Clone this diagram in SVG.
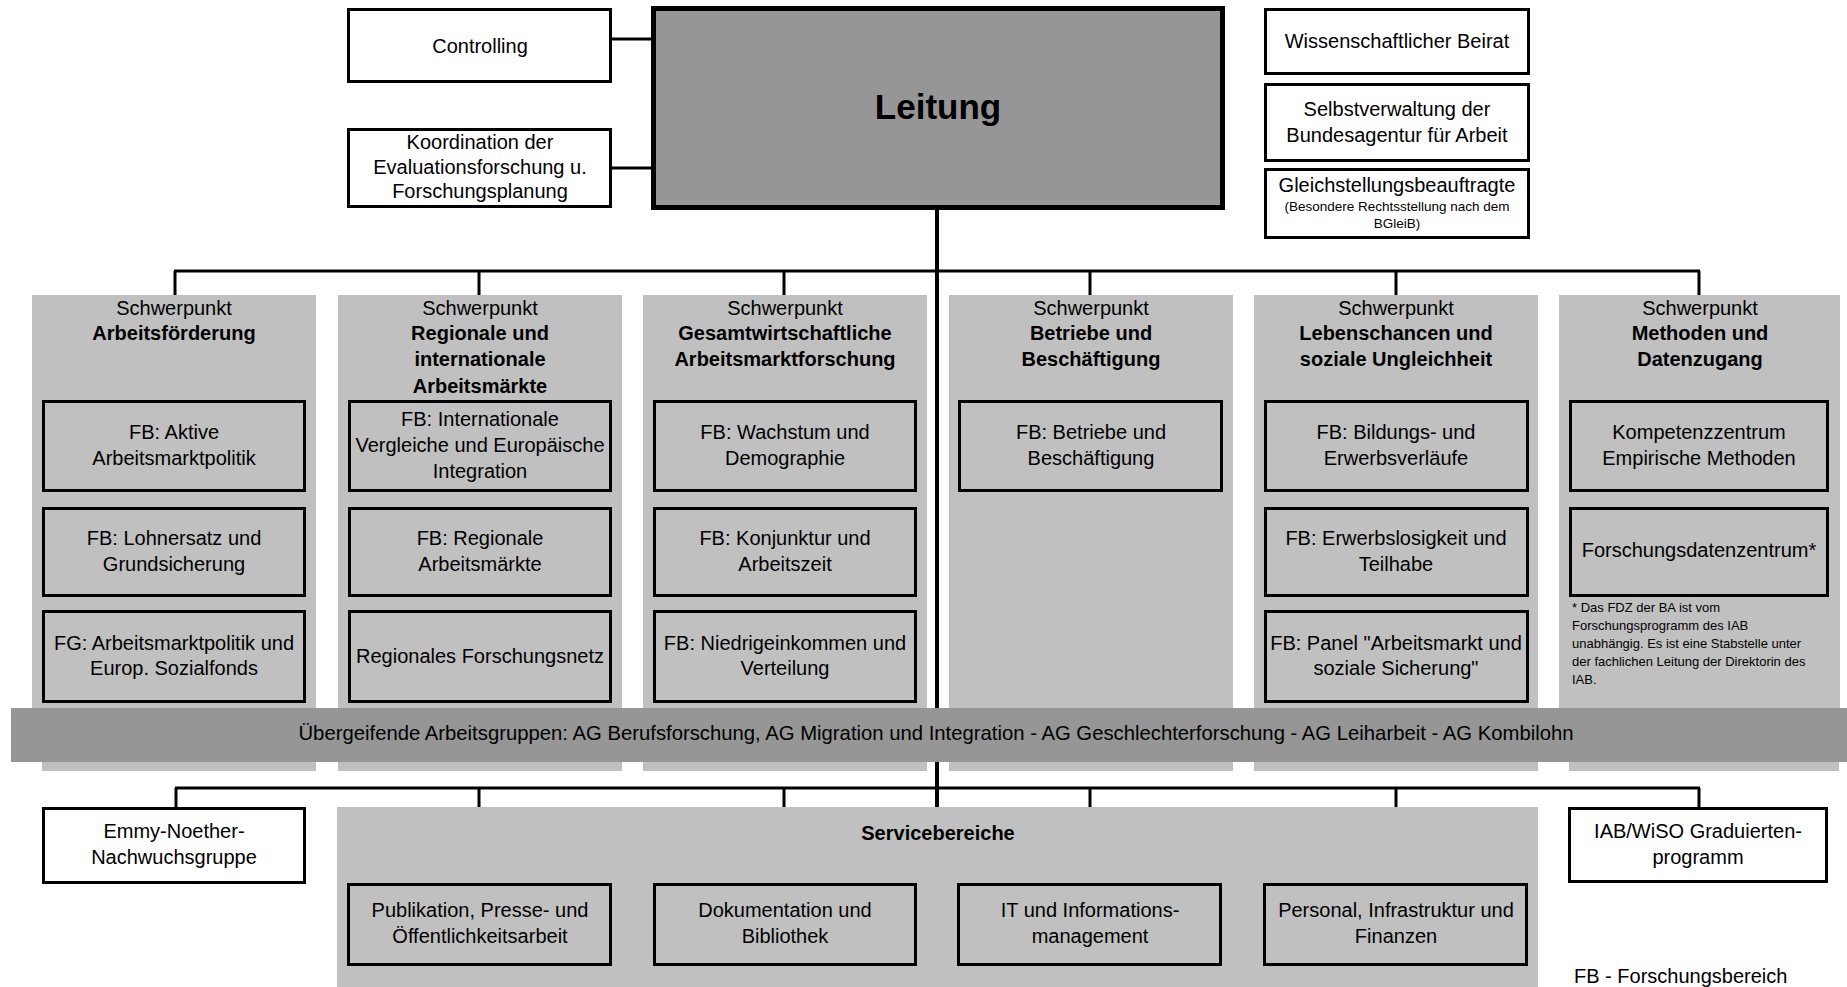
<svg xmlns="http://www.w3.org/2000/svg" width="1847" height="987" viewBox="0 0 1847 987">
<style>
text{font-family:"Liberation Sans",Arial,sans-serif;fill:#000;text-anchor:middle}
.t{font-size:20px}
.b{font-size:20px;font-weight:bold}
.s{font-size:13.5px}
.fn{font-size:13px;text-anchor:start}
.wbox{fill:#fff;stroke:#000;stroke-width:3}
.gbox{fill:#c0c0c0;stroke:#000;stroke-width:3}
.col{fill:#c0c0c0}
.ln{stroke:#000;stroke-width:3;fill:none}
</style>
<rect width="1847" height="987" fill="#fff"/>

<g id="columns-bg">
<rect class="col" x="32" y="295" width="284" height="476"/>
<rect class="col" x="338" y="295" width="284" height="476"/>
<rect class="col" x="643" y="295" width="284" height="476"/>
<rect class="col" x="949" y="295" width="284" height="476"/>
<rect class="col" x="1254" y="295" width="284" height="476"/>
<rect class="col" x="1559" y="295" width="281" height="467"/>
<rect class="col" x="1569" y="762" width="270" height="9"/>
<rect fill="#fff" x="32" y="762" width="10" height="9"/>
</g>

<g id="connectors">
<line class="ln" x1="612" y1="39" x2="653" y2="39"/>
<line class="ln" x1="612" y1="168" x2="653" y2="168"/>
<line x1="937" y1="209" x2="937" y2="807" stroke="#000" stroke-width="4"/>
<line class="ln" x1="174" y1="271" x2="1700" y2="271"/>
<path class="ln" d="M175 271V295M479 271V295M784 271V295M1090 271V295M1396 271V295M1699 271V295"/>
<line class="ln" x1="175" y1="788" x2="1700" y2="788"/>
<path class="ln" d="M176 788V807M479 788V807M784 788V807M1090 788V807M1396 788V807M1699 788V807"/>
</g>

<g id="controlling">
<rect class="wbox" x="348.5" y="9.5" width="262" height="72"/>
<text class="t" x="480" y="53">Controlling</text>
</g>
<g id="koordination">
<rect class="wbox" x="348.5" y="129.5" width="262" height="77"/>
<text class="t" x="480" y="149">Koordination der</text>
<text class="t" x="480" y="174">Evaluationsforschung u.</text>
<text class="t" x="480" y="198">Forschungsplanung</text>
</g>
<g id="leitung">
<rect x="653.5" y="8.5" width="569" height="199" fill="#969696" stroke="#000" stroke-width="5"/>
<text x="938" y="119" style="font-size:35px;font-weight:bold">Leitung</text>
</g>
<g id="beirat">
<rect class="wbox" x="1265.5" y="9.5" width="263" height="64"/>
<text class="t" x="1397" y="48">Wissenschaftlicher Beirat</text>
</g>
<g id="selbstverwaltung">
<rect class="wbox" x="1265.5" y="84.5" width="263" height="76"/>
<text class="t" x="1397" y="116">Selbstverwaltung der</text>
<text class="t" x="1397" y="142">Bundesagentur für Arbeit</text>
</g>
<g id="gleichstellung">
<rect class="wbox" x="1265.5" y="169.5" width="263" height="68"/>
<text class="t" x="1397" y="192">Gleichstellungsbeauftragte</text>
<text class="s" x="1397" y="211">(Besondere Rechtsstellung nach dem</text>
<text class="s" x="1397" y="228">BGleiB)</text>
</g>

<g id="sp1">
<text class="t" x="174" y="315">Schwerpunkt</text>
<text class="b" x="174" y="340">Arbeitsförderung</text>
<rect class="gbox" x="43.5" y="401.5" width="261" height="89"/>
<text class="t" x="174" y="439">FB: Aktive</text>
<text class="t" x="174" y="465">Arbeitsmarktpolitik</text>
<rect class="gbox" x="43.5" y="508.5" width="261" height="87"/>
<text class="t" x="174" y="545">FB: Lohnersatz und</text>
<text class="t" x="174" y="571">Grundsicherung</text>
<rect class="gbox" x="43.5" y="611.5" width="261" height="90"/>
<text class="t" x="174" y="650">FG: Arbeitsmarktpolitik und</text>
<text class="t" x="174" y="675">Europ. Sozialfonds</text>
</g>

<g id="sp2">
<text class="t" x="480" y="315">Schwerpunkt</text>
<text class="b" x="480" y="340">Regionale und</text>
<text class="b" x="480" y="366">internationale</text>
<text class="b" x="480" y="393">Arbeitsmärkte</text>
<rect class="gbox" x="349.5" y="401.5" width="261" height="89"/>
<text class="t" x="480" y="426">FB: Internationale</text>
<text class="t" x="480" y="452">Vergleiche und Europäische</text>
<text class="t" x="480" y="478">Integration</text>
<rect class="gbox" x="349.5" y="508.5" width="261" height="87"/>
<text class="t" x="480" y="545">FB: Regionale</text>
<text class="t" x="480" y="571">Arbeitsmärkte</text>
<rect class="gbox" x="349.5" y="611.5" width="261" height="90"/>
<text class="t" x="480" y="663">Regionales Forschungsnetz</text>
</g>

<g id="sp3">
<text class="t" x="785" y="315">Schwerpunkt</text>
<text class="b" x="785" y="340">Gesamtwirtschaftliche</text>
<text class="b" x="785" y="366">Arbeitsmarktforschung</text>
<rect class="gbox" x="654.5" y="401.5" width="261" height="89"/>
<text class="t" x="785" y="439">FB: Wachstum und</text>
<text class="t" x="785" y="465">Demographie</text>
<rect class="gbox" x="654.5" y="508.5" width="261" height="87"/>
<text class="t" x="785" y="545">FB: Konjunktur und</text>
<text class="t" x="785" y="571">Arbeitszeit</text>
<rect class="gbox" x="654.5" y="611.5" width="261" height="90"/>
<text class="t" x="785" y="650">FB: Niedrigeinkommen und</text>
<text class="t" x="785" y="675">Verteilung</text>
</g>

<g id="sp4">
<text class="t" x="1091" y="315">Schwerpunkt</text>
<text class="b" x="1091" y="340">Betriebe und</text>
<text class="b" x="1091" y="366">Beschäftigung</text>
<rect class="gbox" x="959.5" y="401.5" width="262" height="89"/>
<text class="t" x="1091" y="439">FB: Betriebe und</text>
<text class="t" x="1091" y="465">Beschäftigung</text>
</g>

<g id="sp5">
<text class="t" x="1396" y="315">Schwerpunkt</text>
<text class="b" x="1396" y="340">Lebenschancen und</text>
<text class="b" x="1396" y="366">soziale Ungleichheit</text>
<rect class="gbox" x="1265.5" y="401.5" width="262" height="89"/>
<text class="t" x="1396" y="439">FB: Bildungs- und</text>
<text class="t" x="1396" y="465">Erwerbsverläufe</text>
<rect class="gbox" x="1265.5" y="508.5" width="262" height="87"/>
<text class="t" x="1396" y="545">FB: Erwerbslosigkeit und</text>
<text class="t" x="1396" y="571">Teilhabe</text>
<rect class="gbox" x="1265.5" y="611.5" width="262" height="90"/>
<text class="t" x="1396" y="650">FB: Panel "Arbeitsmarkt und</text>
<text class="t" x="1396" y="675">soziale Sicherung"</text>
</g>

<g id="sp6">
<text class="t" x="1700" y="315">Schwerpunkt</text>
<text class="b" x="1700" y="340">Methoden und</text>
<text class="b" x="1700" y="366">Datenzugang</text>
<rect class="gbox" x="1570.5" y="401.5" width="257" height="89"/>
<text class="t" x="1699" y="439">Kompetenzzentrum</text>
<text class="t" x="1699" y="465">Empirische Methoden</text>
<rect class="gbox" x="1570.5" y="508.5" width="257" height="87"/>
<text class="t" x="1699" y="557">Forschungsdatenzentrum*</text>
<text class="fn" x="1572" y="612">* Das FDZ der BA ist vom</text>
<text class="fn" x="1572" y="630">Forschungsprogramm des IAB</text>
<text class="fn" x="1572" y="648">unabhängig. Es ist eine Stabstelle unter</text>
<text class="fn" x="1572" y="666">der fachlichen Leitung der Direktorin des</text>
<text class="fn" x="1572" y="684">IAB.</text>
</g>

<g id="arbeitsgruppen">
<rect x="11" y="708" width="1836" height="54" fill="#969696"/>
<text x="936" y="740" style="font-size:20.3px">Übergeifende Arbeitsgruppen: AG Berufsforschung, AG Migration und Integration - AG Geschlechterforschung - AG Leiharbeit - AG Kombilohn</text>
</g>

<g id="emmy">
<rect class="wbox" x="43.5" y="808.5" width="261" height="74"/>
<text class="t" x="174" y="838">Emmy-Noether-</text>
<text class="t" x="174" y="864">Nachwuchsgruppe</text>
</g>
<g id="graduierten">
<rect class="wbox" x="1569.5" y="808.5" width="257" height="73"/>
<text class="t" x="1698" y="838">IAB/WiSO Graduierten-</text>
<text class="t" x="1698" y="864">programm</text>
</g>

<g id="servicebereiche">
<rect class="col" x="337" y="807" width="1201" height="180"/>
<text class="b" x="938" y="840">Servicebereiche</text>
</g>
<g id="publikation">
<rect class="gbox" x="348.5" y="884.5" width="262" height="80"/>
<text class="t" x="480" y="917">Publikation, Presse- und</text>
<text class="t" x="480" y="943">Öffentlichkeitsarbeit</text>
</g>
<g id="dokumentation">
<rect class="gbox" x="654.5" y="884.5" width="261" height="80"/>
<text class="t" x="785" y="917">Dokumentation und</text>
<text class="t" x="785" y="943">Bibliothek</text>
</g>
<g id="it">
<rect class="gbox" x="958.5" y="884.5" width="262" height="80"/>
<text class="t" x="1090" y="917">IT und Informations-</text>
<text class="t" x="1090" y="943">management</text>
</g>
<g id="personal">
<rect class="gbox" x="1264.5" y="884.5" width="262" height="80"/>
<text class="t" x="1396" y="917">Personal, Infrastruktur und</text>
<text class="t" x="1396" y="943">Finanzen</text>
</g>

<text class="t" x="1574" y="983" style="text-anchor:start">FB - Forschungsbereich</text>
</svg>
